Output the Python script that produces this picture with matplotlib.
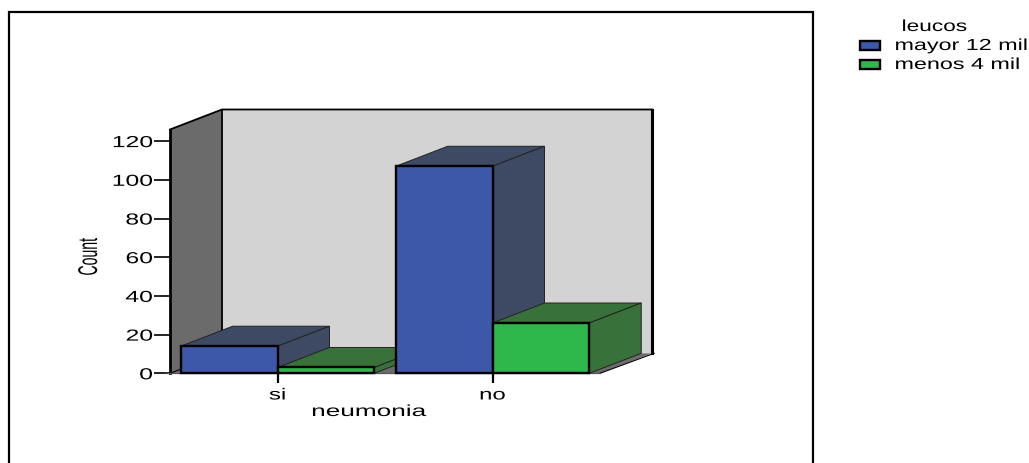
import matplotlib
matplotlib.use("Agg")
import matplotlib.pyplot as plt
from matplotlib.patches import Polygon, Rectangle
from matplotlib.patheffects import AbstractPathEffect
from matplotlib.transforms import Affine2D

W, H = 1029, 464

neumonia = ["si", "no"]
mayor_12 = [14, 107]
menos_4 = [3, 26]
leucos = ["mayor 12 mil", "menos 4 mil"]
y_ticks = [0, 20, 40, 60, 80, 100, 120]

BLUE, BLUE_DK = "#3d58a9", "#3e4a63"
GREEN, GREEN_DK = "#2eb84b", "#39713a"
WALL, SIDE = "#d3d3d3", "#6b6b6b"

plt.rcParams["font.family"] = ["Liberation Sans"]


class Stretch(AbstractPathEffect):
    """Scale the glyphs of a text along / across its baseline."""

    def __init__(self, sx=1.0, sy=1.0, anchor=0.5):
        super().__init__()
        self.sx, self.sy, self.anchor = sx, sy, anchor

    def draw_path(self, renderer, gc, tpath, affine, rgbFace=None):
        ext = tpath.get_extents()
        cx = ext.x0 + self.anchor * ext.width
        local = Affine2D().translate(-cx, 0).scale(self.sx, self.sy).translate(cx, 0)
        renderer.draw_path(gc, tpath, local + affine, rgbFace)


fig = plt.figure(figsize=(W / 100, H / 100), dpi=100)


def rect_px(x0, y0, x1, y1):
    # pixel box (y from top) -> figure fractions
    return [x0 / W, 1 - y1 / H, (x1 - x0) / W, (y1 - y0) / H]


# outer frame, runs off the bottom edge
fig.add_artist(Rectangle((8.5 / W, -2 / H), 804.5 / W, (H - 12.5 + 2) / H, transform=fig.transFigure,
                         fill=False, ec="black", lw=1.6))

ax = fig.add_axes(rect_px(170, 130.5, 600, 374.3))
ax.set_xlim(-0.5, 1.5)
ax.set_ylim(0, 126)
for s in ax.spines.values():
    s.set_visible(False)
ax.patch.set_visible(False)

# depth of the 3D box in data units
DX = 52 / 215
DY = 20 / (243.8 / 126)
BAR_W = 0.45
x0, x1 = ax.get_xlim()
top = ax.get_ylim()[1]

# back wall, side wall, floor
ax.add_patch(Polygon([(x0 + DX, DY), (x1 + DX, DY), (x1 + DX, top + DY), (x0 + DX, top + DY)],
                     fc=WALL, ec="none", zorder=1, clip_on=False))
ax.add_patch(Polygon([(x0, 0), (x0 + DX, DY), (x0 + DX, top + DY), (x0, top)],
                     fc=SIDE, ec="none", zorder=1, clip_on=False))
ax.add_patch(Polygon([(x0, 0), (x1, 0), (x1 + DX, DY), (x0 + DX, DY)],
                     fc=SIDE, ec="none", zorder=1, clip_on=False))
ax.plot([x0, x0 + DX, x1 + DX], [top, top + DY, top + DY], color="black",
        lw=1.3, zorder=2, clip_on=False, solid_joinstyle="miter")
ax.plot([x0, x0], [0, top], color="black", lw=2.0, zorder=2, clip_on=False)
ax.plot([x0 + DX, x0 + DX], [DY, top + DY], color="black", lw=1.3, zorder=2, clip_on=False)
ax.plot([x1 + DX, x1 + DX], [DY, top + DY], color="black", lw=2.2, zorder=2, clip_on=False)
ax.plot([x0, x0 + DX], [0, DY], color="black", lw=0.8, zorder=2, clip_on=False)
ax.plot([x1, x1 + DX + 0.01], [0, DY], color="black", lw=0.8, zorder=2, clip_on=False)
ax.plot([x0 - 0.02, x1], [0, 0], color="#555555", lw=0.9, zorder=2, clip_on=False)


def bar3d(left, h, front, dark, z):
    right = left + BAR_W
    ax.add_patch(Polygon([(left, h), (right, h), (right + DX, h + DY), (left + DX, h + DY)],
                         fc=dark, ec="#222222", lw=0.7, zorder=z, clip_on=False))
    ax.add_patch(Polygon([(right, 0), (right + DX, DY), (right + DX, h + DY), (right, h)],
                         fc=dark, ec="#222222", lw=0.7, zorder=z, clip_on=False))
    ax.add_patch(Rectangle((left, 0), BAR_W, h, fc=front, ec="black", lw=1.7, zorder=z + 0.1,
                           clip_on=False))


# blue then green in each category, left category first
for i in range(len(neumonia)):
    bar3d(i - BAR_W, mayor_12[i], BLUE, BLUE_DK, 3 + i)
    bar3d(i, menos_4[i], GREEN, GREEN_DK, 3.5 + i)

ax.set_xticks(range(len(neumonia)), neumonia)
ax.set_yticks(y_ticks)
ax.tick_params(axis="x", length=7.2, width=1.6, pad=3, labelsize=11.5)
ax.tick_params(axis="y", length=11.5, width=1.2, pad=1, labelsize=11.5)
for lab in ax.get_xticklabels():
    lab.set_path_effects([Stretch(1.5)])
for lab in ax.get_yticklabels():
    lab.set_path_effects([Stretch(1.55, anchor=1.0)])

ax.text((369 - 170) / 430, -(412.5 - 374.3) / 243.8, "neumonia", transform=ax.transAxes,
        ha="center", va="center", fontsize=11.5, path_effects=[Stretch(1.64)])
fig.text(92.5 / W, 1 - 258 / H, "Count", rotation=90, ha="center", va="center",
         fontsize=13, path_effects=[Stretch(0.78, 1.5)])

# legend
fig.text(934.5 / W, 1 - 27.5 / H, "leucos", ha="center", va="center", fontsize=11.5,
         path_effects=[Stretch(1.42)])
for j, (name, fc) in enumerate(zip(leucos, [BLUE, GREEN])):
    y = 46 + j * 19
    fig.add_artist(Rectangle((860 / W, 1 - (y + 4.5) / H), 20 / W, 9 / H, transform=fig.transFigure,
                             fc=fc, ec="black", lw=1.7))
    fig.text(895 / W, 1 - (y + 0.5) / H, name, ha="left", va="center", fontsize=11.5,
             path_effects=[Stretch(1.46, anchor=0.0)])

fig.savefig("out.png", dpi=100)
